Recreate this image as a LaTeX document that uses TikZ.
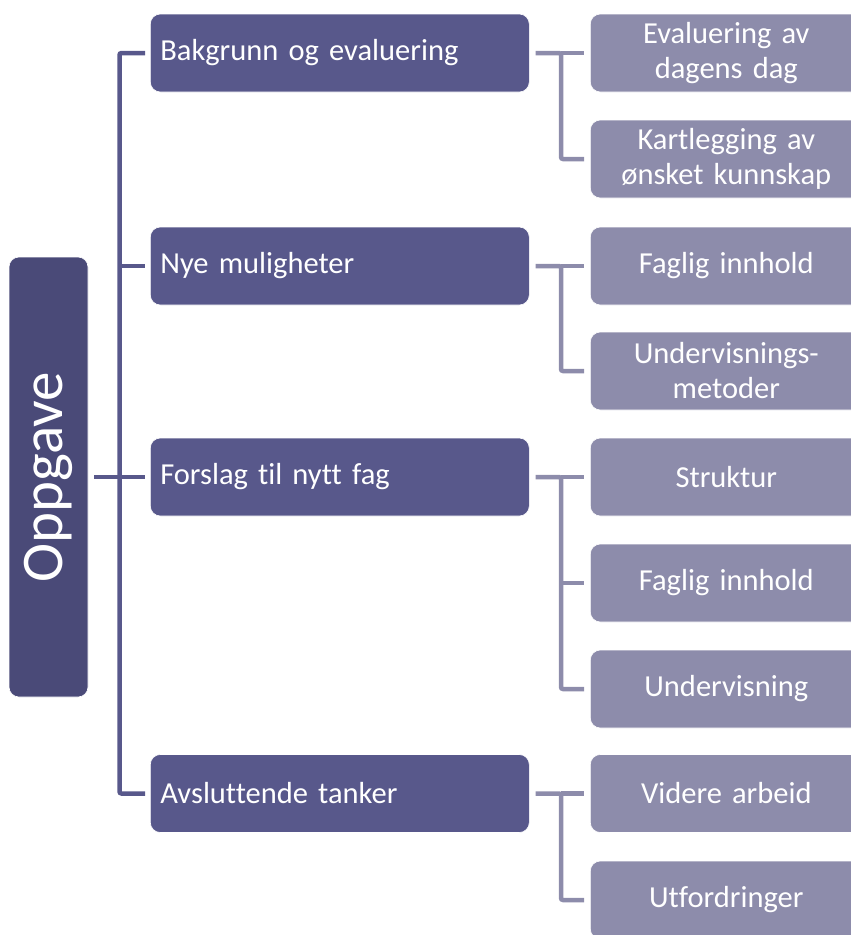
\documentclass[tikz,border=0pt]{standalone}
\usepackage{fontspec}
\setmainfont[Ligatures=NoCommon]{Carlito}
\definecolor{rootc}{HTML}{4A4A78}
\definecolor{lvone}{HTML}{58588B}
\definecolor{lvtwo}{HTML}{8D8CAB}
\begin{document}
\begin{tikzpicture}[x=1pt,y=-1pt,
  rootbox/.style={fill=rootc,draw=white,line width=0.6pt,rounded corners=10pt,rotate=90,
    minimum width=440pt,minimum height=79pt,inner sep=0pt,text=white,
    font=\fontsize{59}{61}\selectfont},
  onebox/.style={fill=lvone,draw=white,line width=0.6pt,rounded corners=10pt,anchor=west,
    minimum height=78pt,text width=359pt,inner xsep=10pt,inner ysep=0pt,align=left,
    text=white,font=\fontsize{30.5}{36}\selectfont},
  twobox/.style={fill=lvtwo,draw=white,line width=0.6pt,rounded corners=10pt,anchor=west,
    minimum height=78pt,text width=252pt,inner xsep=10pt,inner ysep=0pt,align=center,
    text=white,font=\fontsize{30.5}{35}\selectfont},
  cone/.style={draw=lvone,line width=4.5pt,rounded corners=2pt},
  ctwo/.style={draw=lvtwo,line width=4.5pt,rounded corners=2pt}]
\useasboundingbox (0,0) rectangle (851,935);
\node[rootbox] (root) at (48.5,477) {Oppgave};
\node[onebox] (L1) at (150,53) {Bakgrunn og evaluering};
\node[onebox] (L2) at (150,266) {Nye muligheter};
\node[onebox] (L3) at (150,477) {Forslag til nytt fag};
\node[onebox] (L4) at (150,793.5) {Avsluttende tanker};
\node[twobox] (E1) at (590,53) {Evaluering av\\dagens dag};
\node[twobox] (E2) at (590,159) {Kartlegging av\\ønsket kunnskap};
\node[twobox] (C1) at (590,266) {Faglig innhold};
\node[twobox] (C2) at (590,371) {Undervisnings-\\metoder};
\node[twobox] (D1) at (590,477) {Struktur};
\node[twobox] (D2) at (590,583) {Faglig innhold};
\node[twobox] (D3) at (590,689) {Undervisning};
\node[twobox] (F1) at (590,793.5) {Videre arbeid};
\node[twobox] (F2) at (590,900) {Utfordringer};
\coordinate (trunk) at (119.5,0);
\coordinate (bus) at (561,0);
% level one connectors
\draw[cone] ([xshift=6pt]root.south) -- ([xshift=-5pt]L3.west);
\draw[cone] ([xshift=-5pt]L1.west) -| (trunk |- L4.west) -- ([xshift=-5pt]L4.west);
\draw[cone] (trunk |- L2.west) -- ([xshift=-5pt]L2.west);
% level two connectors
\draw[ctwo] ([xshift=6pt]L1.east) -- (bus |- L1.east) |- ([xshift=-6pt]E2.west);
\draw[ctwo] (bus |- L1.east) -- ([xshift=-6pt]E1.west);
\draw[ctwo] ([xshift=6pt]L2.east) -- (bus |- L2.east) |- ([xshift=-6pt]C2.west);
\draw[ctwo] (bus |- L2.east) -- ([xshift=-6pt]C1.west);
\draw[ctwo] ([xshift=6pt]L3.east) -- (bus |- L3.east) |- ([xshift=-6pt]D3.west);
\draw[ctwo] (bus |- L3.east) -- ([xshift=-6pt]D1.west);
\draw[ctwo] (bus |- D2.west) -- ([xshift=-6pt]D2.west);
\draw[ctwo] ([xshift=6pt]L4.east) -- (bus |- L4.east) |- ([xshift=-6pt]F2.west);
\draw[ctwo] (bus |- L4.east) -- ([xshift=-6pt]F1.west);
\end{tikzpicture}
\end{document}
